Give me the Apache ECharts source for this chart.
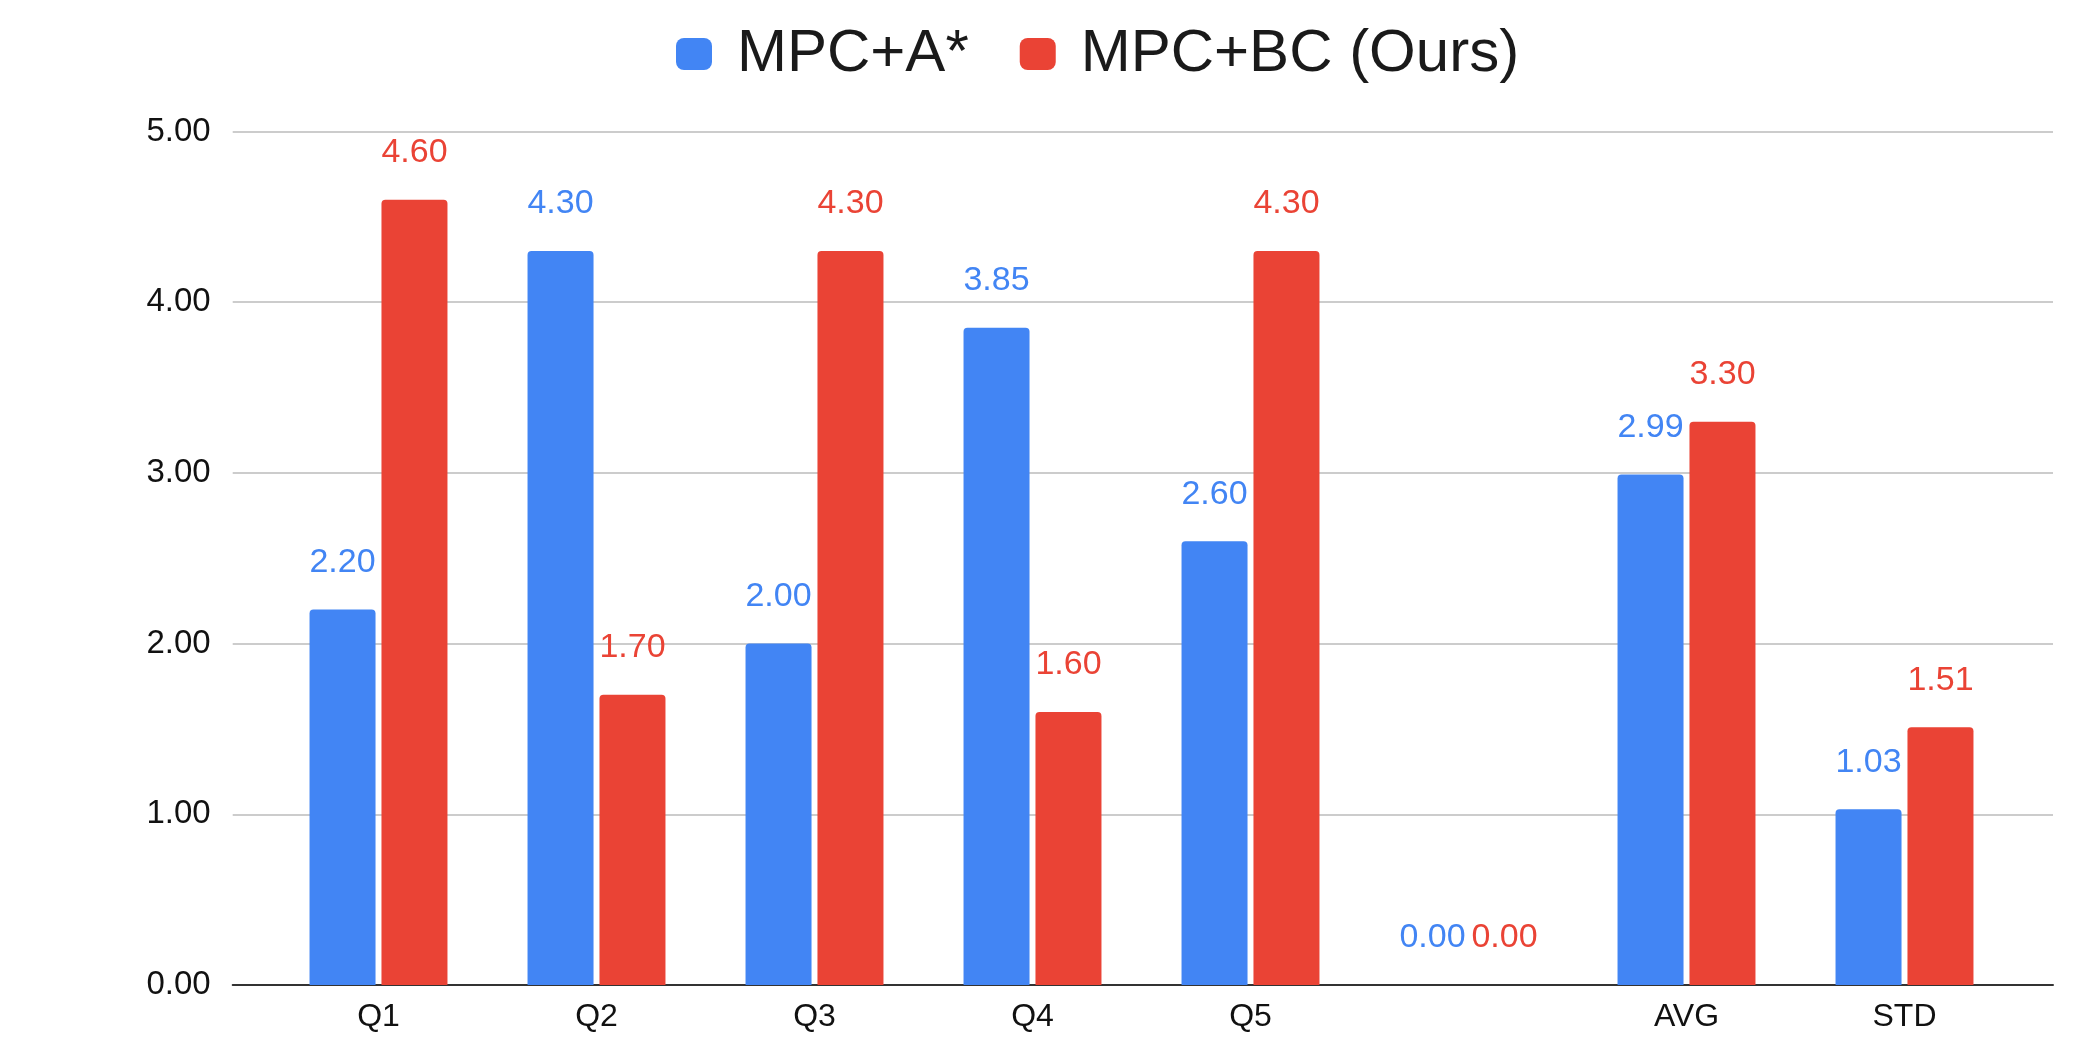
<!DOCTYPE html>
<html>
<head>
<meta charset="utf-8">
<title>MPC+A* vs MPC+BC</title>
<script src="https://cdn.jsdelivr.net/npm/echarts@6/dist/echarts.min.js"></script>
<style>
  html, body { margin: 0; padding: 0; background: #ffffff; }
  #chart { width: 2084px; height: 1047px; }
</style>
</head>
<body>
<div id="chart"></div>
<script>
// Questionnaire scores per question, plus average and standard deviation.
// The blank category is an empty spacer slot between Q5 and AVG.
const categories = ['Q1', 'Q2', 'Q3', 'Q4', 'Q5', '', 'AVG', 'STD'];
const seriesNames = ['MPC+A*', 'MPC+BC (Ours)'];
const mpcAStar = [2.20, 4.30, 2.00, 3.85, 2.60, 0.00, 2.99, 1.03];
const mpcBC = [4.60, 1.70, 4.30, 1.60, 4.30, 0.00, 3.30, 1.51];
const yTicks = [0, 1, 2, 3, 4, 5];

const BLUE = '#4285F4';
const RED = '#EA4335';
const FONT = '"Liberation Sans", Arial, Helvetica, sans-serif';

const chart = echarts.init(document.getElementById('chart'), null, { renderer: 'canvas' });

const gridTop = 131.5;
const gridBottom = 62;

function barSeries(name, data, color) {
  return {
    name: name,
    type: 'bar',
    xAxisIndex: 1,
    yAxisIndex: 1,
    data: data,
    barWidth: 66,
    barGap: '9%',
    itemStyle: { color: color, borderRadius: [4, 4, 0, 0] },
    label: {
      show: true,
      position: 'top',
      distance: 30,
      color: color,
      fontFamily: FONT,
      fontSize: 34,
      formatter: p => p.value.toFixed(2)
    }
  };
}

chart.setOption({
  animation: false,
  backgroundColor: '#ffffff',
  legend: {
    left: 671,
    top: 19,
    itemWidth: 36,
    itemHeight: 32,
    itemGap: 51,
    icon: 'roundRect',
    data: seriesNames,
    textStyle: {
      fontFamily: FONT,
      fontSize: 60,
      color: '#1a1a1a',
      padding: [0, 0, 0, 20]
    }
  },
  grid: [
    // wide frame carrying the value scale, gridlines and baseline
    { left: 232.7, right: 31, top: gridTop, bottom: gridBottom, containLabel: false },
    // inner plotting band for the grouped bars
    { left: 269.5, right: 70.5, top: gridTop, bottom: gridBottom, containLabel: false }
  ],
  xAxis: [
    {
      gridIndex: 0,
      type: 'value',
      min: 0,
      max: 1,
      axisLine: { show: true, lineStyle: { color: '#333333', width: 2 } },
      axisTick: { show: false },
      axisLabel: { show: false },
      splitLine: { show: false }
    },
    {
      gridIndex: 1,
      type: 'category',
      data: categories,
      axisLine: { show: false },
      axisTick: { show: false },
      axisLabel: {
        margin: 16,
        color: '#111111',
        fontFamily: FONT,
        fontSize: 32
      },
      splitLine: { show: false }
    }
  ],
  yAxis: [
    {
      gridIndex: 0,
      type: 'value',
      min: yTicks[0],
      max: yTicks[yTicks.length - 1],
      interval: 1,
      axisLine: { show: false },
      axisTick: { show: false },
      axisLabel: {
        margin: 22,
        color: '#111111',
        fontFamily: FONT,
        fontSize: 33,
        formatter: v => v.toFixed(2)
      },
      splitLine: { show: true, lineStyle: { color: '#cccccc', width: 2 } }
    },
    {
      gridIndex: 1,
      type: 'value',
      min: yTicks[0],
      max: yTicks[yTicks.length - 1],
      interval: 1,
      show: false,
      splitLine: { show: false }
    }
  ],
  series: [
    barSeries(seriesNames[0], mpcAStar, BLUE),
    barSeries(seriesNames[1], mpcBC, RED)
  ]
});
</script>
</body>
</html>
